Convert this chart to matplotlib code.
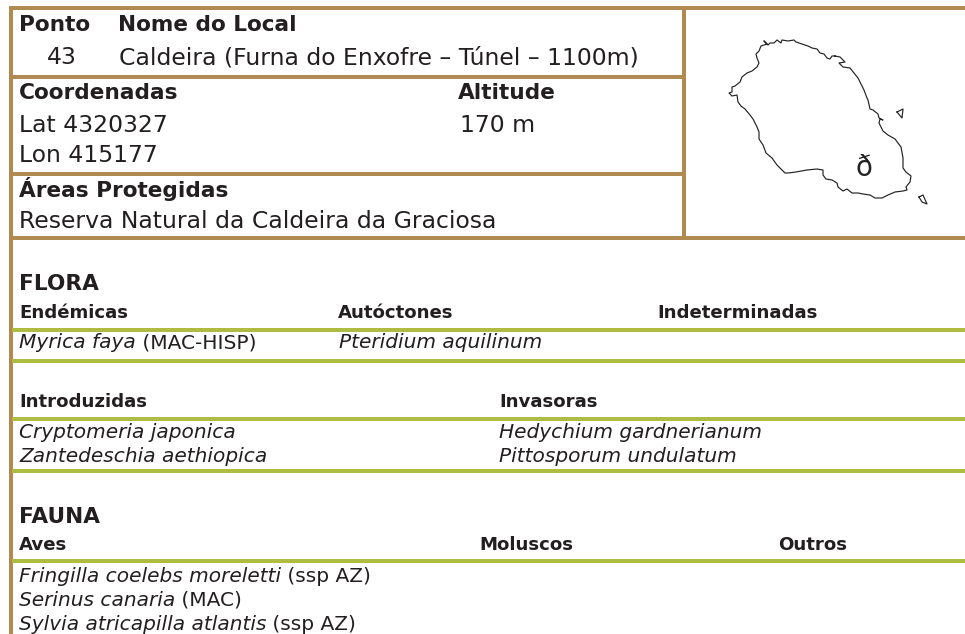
import matplotlib
matplotlib.use("Agg")
import matplotlib.pyplot as plt

BROWN = "#B08A50"
GREEN = "#AEBD42"
INK = "#231F20"
FONT = "DejaVu Sans"
H_REG, H_BOLD, S_BOLD, S_IT = 16.9, 15.6, 13.1, 14.5

# (x, y, text, size, weight, style)
labels = [
    (19, 25, "Ponto", H_BOLD, "bold", "normal"),
    (118, 25, "Nome do Local", H_BOLD, "bold", "normal"),
    (47, 58, "43", H_REG, "normal", "normal"),
    (119, 58, "Caldeira (Furna do Enxofre – Túnel – 1100m)", H_REG, "normal", "normal"),
    (19, 93, "Coordenadas", H_BOLD, "bold", "normal"),
    (458, 93, "Altitude", H_BOLD, "bold", "normal"),
    (19, 126, "Lat 4320327", H_REG, "normal", "normal"),
    (460, 126, "170 m", H_REG, "normal", "normal"),
    (19, 156, "Lon 415177", H_REG, "normal", "normal"),
    (19, 189, "Áreas Protegidas", H_BOLD, "bold", "normal"),
    (19, 222, "Reserva Natural da Caldeira da Graciosa", H_REG, "normal", "normal"),
    (19, 284, "FLORA", H_BOLD, "bold", "normal"),
    (19, 313, "Endémicas", S_BOLD, "bold", "normal"),
    (338, 313, "Autóctones", S_BOLD, "bold", "normal"),
    (657, 313, "Indeterminadas", S_BOLD, "bold", "normal"),
    (339, 343, "Pteridium aquilinum", S_IT, "normal", "italic"),
    (19, 402, "Introduzidas", S_BOLD, "bold", "normal"),
    (499, 402, "Invasoras", S_BOLD, "bold", "normal"),
    (19, 433, "Cryptomeria japonica", S_IT, "normal", "italic"),
    (19, 457, "Zantedeschia aethiopica", S_IT, "normal", "italic"),
    (499, 433, "Hedychium gardnerianum", S_IT, "normal", "italic"),
    (499, 457, "Pittosporum undulatum", S_IT, "normal", "italic"),
    (19, 517, "FAUNA", H_BOLD, "bold", "normal"),
    (19, 545, "Aves", S_BOLD, "bold", "normal"),
    (479, 545, "Moluscos", S_BOLD, "bold", "normal"),
    (778, 545, "Outros", S_BOLD, "bold", "normal"),
]
# mixed italic + roman runs: (x, y, italic part, roman part)
mixed = [
    (19, 343, "Myrica faya", " (MAC-HISP)"),
    (19, 577, "Fringilla coelebs moreletti", " (ssp AZ)"),
    (19, 600, "Serinus canaria", " (MAC)"),
    (19, 624, "Sylvia atricapilla atlantis", " (ssp AZ)"),
]
# (x0, x1, y, lw px)
brown_h = [(9, 965, 8, 4), (13, 683, 77, 4), (13, 683, 174, 4), (13, 965, 238, 4)]
brown_v = [(11, 6, 634, 4), (684, 8, 238, 4)]
green_h = [(12, 965, 330, 4), (12, 965, 361, 4), (12, 965, 419, 4), (12, 965, 471, 4), (12, 965, 561, 4)]

# coastline traces, in reference pixels
nw_x = [835,832,830,827,824,820,817,812,808,802,796,794,788,782,781,777,774,770,768,764,767,761,759,756,757,759,757,752,747,742,740,735,732,732,729,732,737,738,741,745,750,753]
nw_y = [56,56,59,58,54,53,49,48,46,44,42,40,41,40,43,40,43,43,45,41,44,46,51,54,58,63,67,71,73,77,82,86,87,92,93,96,95,102,106,109,115,119]
sw_x = [757,759,759,763,766,772,777,782,785,788,796,807,817,823]
sw_y = [127,132,139,145,153,158,165,170,173,173,172,170,169,170]
se_x = [823,826,832,837,838,843,847,852,858,863,870,875,882,888,895,903,907,906,910,911,906,903,903,901,895,888,883,879,880,883,879,878,873,870,868]
se_y = [175,179,180,183,187,191,189,193,193,194,195,198,198,195,192,191,190,187,182,176,172,168,158,147,139,135,131,123,119,120,118,114,110,109,100]
ne_x = [867,864,858,850,843,839,845,840,835]
ne_y = [98,90,78,68,67,63,62,57,56]
islet1_x = [897,903,902,897]
islet1_y = [112,109,118,112]
islet2_x = [919,923,927,922,919]
islet2_y = [197,195,204,202,197]

fig = plt.figure(figsize=(9.65, 6.34), dpi=100, facecolor="white")
ax = fig.add_axes([0, 0, 1, 1])
ax.set_xlim(0, 965)
ax.set_ylim(634, 0)
ax.axis("off")
px = 0.72

for x0, x1, y, w in brown_h:
    ax.plot([x0, x1], [y, y], color=BROWN, lw=w * px, solid_capstyle="butt")
for x, y0, y1, w in brown_v:
    ax.plot([x, x], [y0, y1], color=BROWN, lw=w * px, solid_capstyle="butt")
for x0, x1, y, w in green_h:
    ax.plot([x0, x1], [y, y], color=GREEN, lw=w * px, solid_capstyle="butt")

for x, y, t, s, w, st in labels:
    ax.text(x, y, t, fontsize=s, family=FONT, weight=w, style=st,
            color=INK, va="center", ha="left")

fig.canvas.draw()
r = fig.canvas.get_renderer()
for x, y, it, ro in mixed:
    t = ax.text(x, y, it, fontsize=S_IT, family=FONT, style="italic", color=INK, va="center", ha="left")
    bb = t.get_window_extent(r)
    ax.text(bb.x1, y, ro, fontsize=S_IT, family=FONT, color=INK, va="center", ha="left")

coast_x = nw_x + sw_x + se_x + ne_x
coast_y = nw_y + sw_y + se_y + ne_y
for xs, ys in [(coast_x, coast_y), (islet1_x, islet1_y), (islet2_x, islet2_y)]:
    ax.plot(xs, ys, color="#222222", lw=0.85)
ax.text(864, 168, "ð", fontsize=20, family=FONT, color="#222222", ha="center", va="center")

fig.savefig("out.png", dpi=100)
